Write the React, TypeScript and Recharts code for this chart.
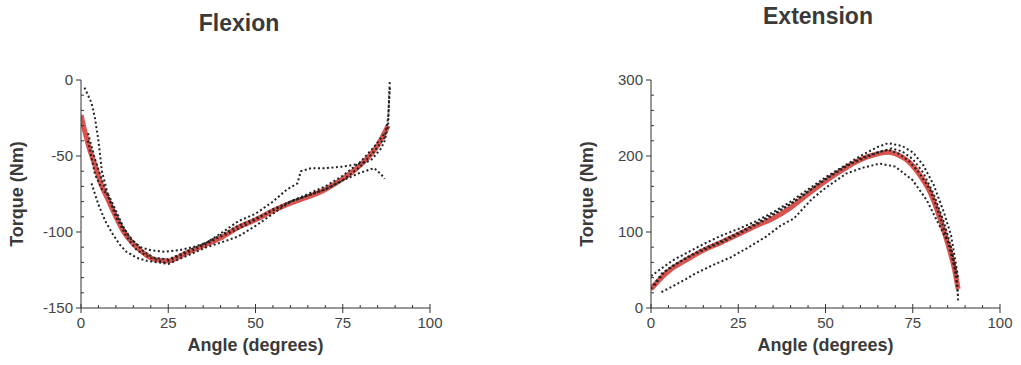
import React from "react";
import { LineChart, Line, XAxis, YAxis, Label } from "recharts";

// Flexion: fitted curve + trials (angle in degrees, torque in Nm)
const flexFit = [
  [0, -23], [2, -42], [4, -56], [6, -70], [8, -80], [10, -90], [12, -99], [15, -108],
  [18, -114], [21, -118], [25, -119], [30, -114], [35, -109], [40, -104], [45, -97],
  [50, -92], [55, -86], [60, -81], [65, -77], [70, -72], [75, -65], [80, -56], [85, -43], [88, -30],
];
const flexTrialA = [
  [1, -5], [2, -10], [3, -15], [4, -25], [5, -40], [6, -60], [8, -78], [10, -90], [13, -103],
  [16, -112], [20, -117], [24, -120], [28, -116], [32, -112], [36, -108], [40, -103], [45, -98],
  [50, -92], [55, -85], [60, -80], [65, -76], [70, -72], [75, -66], [80, -57], [84, -47],
  [87, -38], [88, -25], [88.5, -5],
];
const flexTrialB = [
  [3, -68], [5, -82], [7, -93], [9, -101], [11, -108], [13, -113], [16, -117], [19, -119],
  [22, -120], [25, -121], [28, -118], [32, -114], [36, -110], [40, -107], [45, -103], [50, -96],
  [55, -88], [60, -80], [65, -76], [70, -72], [75, -66], [80, -61], [84, -58], [86, -62], [87, -65],
];
const flexTrialC = [
  [2, -40], [4, -62], [6, -72], [8, -76], [10, -86], [12, -96], [14, -104], [17, -110],
  [20, -112], [24, -113], [28, -112], [32, -110], [36, -107], [40, -101], [45, -93], [50, -88],
  [55, -80], [59, -72], [62, -68], [63, -60], [66, -58], [70, -58], [75, -57], [80, -55],
  [83, -53], [86, -45], [87, -40], [88, -30], [88.3, -10], [88.5, 0],
];
const flexTrialD = [
  [2, -35], [4, -52], [6, -66], [8, -78], [10, -88], [12, -97], [15, -106], [18, -113],
  [21, -117], [25, -118], [30, -113], [35, -108], [40, -102], [45, -96], [50, -91], [55, -86],
  [60, -80], [65, -75], [70, -70], [75, -63], [80, -54], [84, -44], [87, -35],
];

// Extension
const extFit = [
  [0, 25], [3, 40], [6, 52], [10, 63], [15, 76], [20, 86], [25, 97], [30, 108], [35, 118],
  [40, 132], [45, 150], [50, 167], [55, 182], [60, 195], [65, 203], [68, 205], [71, 201],
  [74, 192], [77, 175], [80, 152], [83, 115], [85, 85], [87, 50], [88, 25],
];
const extTrialUpper = [
  [0, 42], [3, 52], [6, 62], [10, 72], [15, 84], [20, 95], [25, 104], [30, 114], [35, 126],
  [40, 140], [45, 156], [50, 172], [55, 186], [60, 200], [65, 212], [68, 217], [72, 213],
  [75, 205], [78, 188], [81, 162], [84, 125], [86, 95], [88, 40],
];
const extTrialMid = [
  [0, 25], [3, 45], [6, 55], [10, 66], [15, 78], [20, 88], [25, 99], [30, 111], [35, 124],
  [40, 137], [45, 153], [50, 170], [55, 185], [60, 197], [65, 205], [68, 208], [71, 203],
  [74, 193], [77, 177], [80, 155], [83, 118], [85, 88], [87, 52], [88, 18],
];
const extTrialLower = [
  [3, 21], [6, 28], [10, 38], [13, 46], [18, 57], [23, 67], [28, 80], [33, 94], [37, 108],
  [41, 118], [46, 143], [50, 158], [56, 177], [61, 185], [65.6, 190], [70, 186], [75, 168],
  [79, 142], [82.8, 107], [85.7, 81], [87.6, 41], [88, 10],
];
const extTrialD = [
  [1, 30], [4, 48], [8, 60], [12, 70], [17, 80], [22, 90], [27, 102], [32, 114], [37, 128],
  [42, 143], [47, 160], [52, 175], [57, 189], [62, 199], [66, 206], [69, 210], [72, 206],
  [75, 196], [78, 178], [81, 150], [84, 112], [86, 80], [87.5, 45],
];

const xTicks = Array.from({ length: 21 }, (_, i) => i * 5);
const flexTicks = Array.from({ length: 16 }, (_, i) => -150 + i * 10);
const extTicks = Array.from({ length: 16 }, (_, i) => i * 20);

const toPts = (arr: number[][]) => arr.map(([a, t]) => ({ a, t }));

const FONT = "'Liberation Sans', Arial, sans-serif";
const AXIS = "#333";

const XTick = (props: any) => {
  const { x, y, payload } = props;
  const major = payload.value % 25 === 0;
  return (
    <g>
      {major ? (
        <>
          <line x1={x} x2={x} y1={y - 4} y2={y + 5} stroke={AXIS} />
          <text x={x} y={y + 20} textAnchor="middle" fontSize={15} fill="#444" fontFamily={FONT}>
            {payload.value}
          </text>
        </>
      ) : (
        <line x1={x} x2={x} y1={y - 3} y2={y} stroke={AXIS} />
      )}
    </g>
  );
};

const makeYTick = (step: number) => (props: any) => {
  const { x, y, payload } = props;
  const major = payload.value % step === 0;
  return (
    <g>
      {major ? (
        <>
          <line x1={x - 5} x2={x} y1={y} y2={y} stroke={AXIS} />
          <text x={x - 8} y={y + 5} textAnchor="end" fontSize={15} fill="#444" fontFamily={FONT}>
            {payload.value}
          </text>
        </>
      ) : (
        <line x1={x} x2={x + 3} y1={y} y2={y} stroke={AXIS} />
      )}
    </g>
  );
};

const trialStyle = {
  stroke: "#222",
  strokeWidth: 2,
  strokeDasharray: "2 2.5",
  dot: false,
  isAnimationActive: false,
  type: "linear" as const,
};

function Panel(props: {
  trials: number[][][];
  fit: number[][];
  domain: [number, number];
  ticks: number[];
  step: number;
}) {
  const { trials, fit, domain, ticks, step } = props;
  return (
    <LineChart width={450} height={365} margin={{ top: 80, right: 20, bottom: 0, left: 0 }}>
      <XAxis
        type="number"
        dataKey="a"
        domain={[0, 100]}
        ticks={xTicks}
        interval={0}
        tickSize={0}
        tickMargin={0}
        height={57}
        stroke={AXIS}
        tick={<XTick />}
        allowDataOverflow
      >
        <Label
          value="Angle (degrees)"
          position="insideBottom"
          offset={14}
          style={{ fontSize: 18, fontWeight: "bold", fill: "#3a3a3a", fontFamily: FONT }}
        />
      </XAxis>
      <YAxis
        type="number"
        dataKey="t"
        domain={domain}
        ticks={ticks}
        interval={0}
        tickSize={0}
        tickMargin={0}
        width={81}
        stroke={AXIS}
        tick={makeYTick(step)}
        allowDataOverflow
      >
        <Label
          value="Torque (Nm)"
          angle={-90}
          position="insideLeft"
          offset={17}
          style={{ fontSize: 18, fontWeight: "bold", fill: "#3a3a3a", fontFamily: FONT, textAnchor: "middle" }}
        />
      </YAxis>
      <Line
        data={toPts(fit)}
        dataKey="t"
        type="monotone"
        stroke="#d9534f"
        strokeWidth={5}
        dot={false}
        isAnimationActive={false}
      />
      {trials.map((tr, i) => (
        <Line key={i} data={toPts(tr)} dataKey="t" {...trialStyle} />
      ))}
    </LineChart>
  );
}

export default function App() {
  return (
    <div style={{ position: "absolute", left: 0, top: 0, width: 1021, height: 365, background: "#fff", fontFamily: FONT, overflow: "hidden" }}>
      <div style={{ position: "absolute", left: 0, top: 0 }}>
        <Panel trials={[flexTrialA, flexTrialB, flexTrialC, flexTrialD]} fit={flexFit} domain={[-150, 0]} ticks={flexTicks} step={50} />
      </div>
      <div style={{ position: "absolute", left: 570, top: 0 }}>
        <Panel trials={[extTrialUpper, extTrialMid, extTrialLower, extTrialD]} fit={extFit} domain={[0, 300]} ticks={extTicks} step={100} />
      </div>
      <div style={{ position: "absolute", left: 139, width: 200, top: 10, textAlign: "center", fontSize: 23, fontWeight: "bold", color: "#3a3a3a" }}>
        Flexion
      </div>
      <div style={{ position: "absolute", left: 718, width: 200, top: 3, textAlign: "center", fontSize: 23, fontWeight: "bold", color: "#3a3a3a" }}>
        Extension
      </div>
    </div>
  );
}
